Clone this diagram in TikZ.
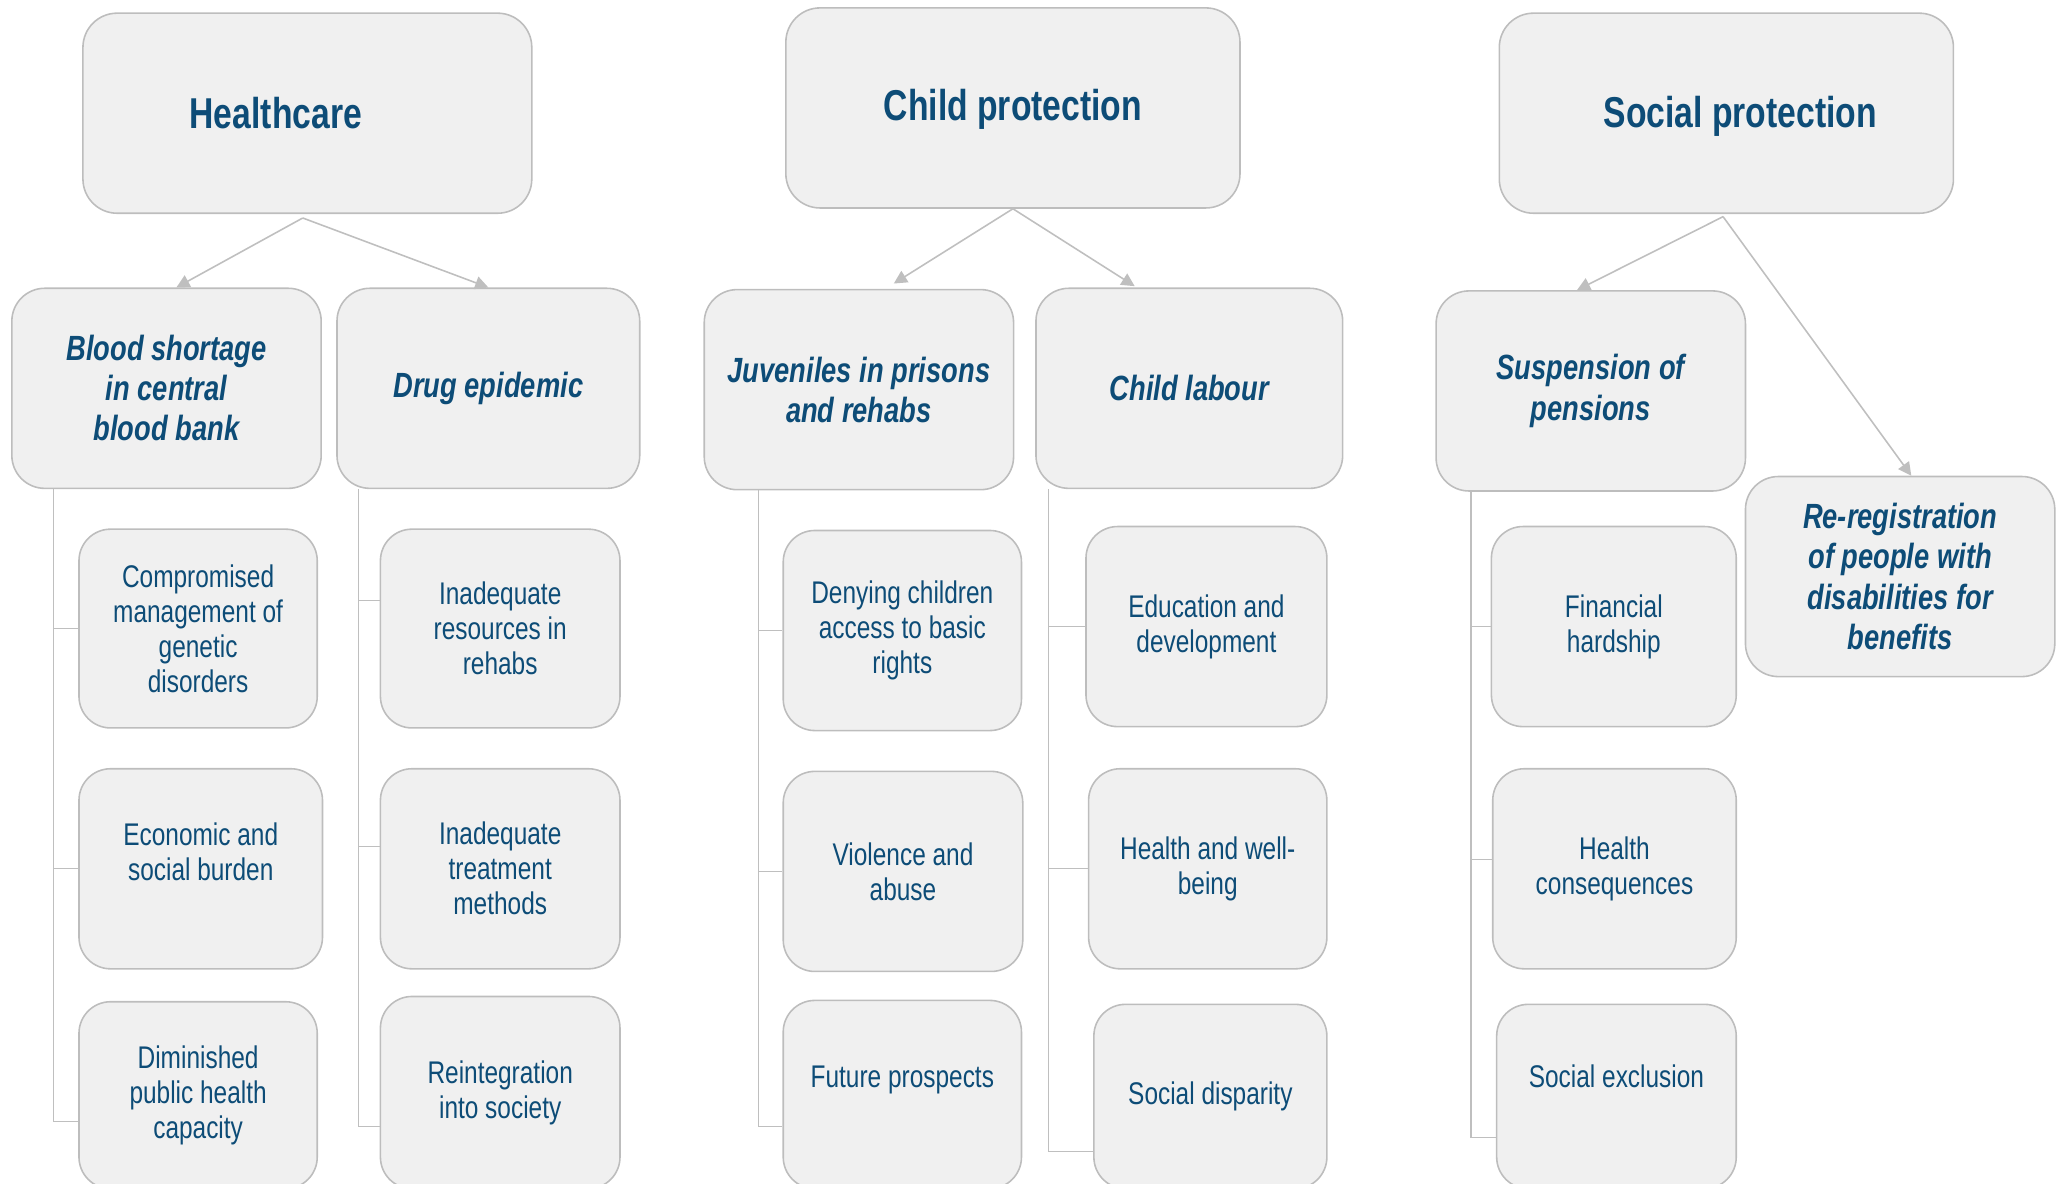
\documentclass[tikz,border=0pt]{standalone}
\usepackage{fontspec}
\setmainfont[FakeStretch=0.78]{Liberation Sans}
\usetikzlibrary{arrows.meta,positioning,calc}
\definecolor{navy}{HTML}{0D4C77}
\definecolor{boxgray}{HTML}{F0F0F0}
\definecolor{edgegray}{HTML}{BDBDBD}
\definecolor{linegray}{HTML}{BFBFBF}

\begin{document}
\begin{tikzpicture}[x=0.5pt,y=-0.5pt,
    cellbox/.style={draw=edgegray, fill=boxgray, line width=0.6pt, inner sep=0pt, text=navy, align=center},
    hdbox/.style={cellbox, rounded corners=13pt, minimum height=76pt, font=\bfseries\fontsize{16.4}{18}\selectfont},
    subbox/.style={cellbox, rounded corners=12.5pt, minimum height=76pt, font=\bfseries\itshape\fontsize{13.3}{15.25}\selectfont},
    leafbox/.style={cellbox, rounded corners=12pt, minimum height=76pt, font=\fontsize{11.9}{13.3}\selectfont},
    arrowline/.style={draw=linegray, line width=0.6pt, -{Triangle[length=5pt,width=5pt]}},
    treeline/.style={draw=linegray, line width=0.5pt}]
    \clip (0,0) rectangle (1568,899);

    % sectors
    \node[hdbox, minimum width=170.5pt] (hc) at (233.5,86) {\hspace*{-24pt}Healthcare};
    \node[hdbox, minimum width=172.5pt, text depth=2pt] (cp) at (769.5,82) {Child protection};
    \node[hdbox, minimum width=172.5pt, text depth=1pt] (sp) at (1311.5,86) {\hspace*{10.5pt}Social protection};

    % issues
    \node[subbox, minimum width=117.5pt] (blood) at (126.5,295) {Blood shortage\\in central\\blood bank};
    \node[subbox, minimum width=115pt] (drug) at (371,295) {Drug epidemic};
    \node[subbox, minimum width=117.5pt] (juv) at (652.5,296) {Juveniles in prisons\\and rehabs};
    \node[subbox, minimum width=116.5pt] (labour) at (903.5,295) {Child labour};
    \node[subbox, minimum width=117.5pt] (pens) at (1208.5,297) {Suspension of\\pensions};
    \node[subbox, minimum width=117.5pt] (rereg) at (1443.5,438) {Re-registration\\of people with\\disabilities for\\benefits};

    % consequences
    \node[leafbox, minimum width=90.5pt, minimum height=75.5pt] (comp) at (150.5,477.5) {Compromised\\management of\\genetic\\disorders};
    \node[leafbox, minimum width=92.5pt, text depth=13pt] (econ) at (152.5,660) {Economic and\\social burden};
    \node[leafbox, minimum width=90.5pt, minimum height=71pt] (dimin) at (150.5,832) {Diminished\\public health\\capacity};
    \node[leafbox, minimum width=91pt, minimum height=75.5pt] (res) at (380,477.5) {Inadequate\\resources in\\rehabs};
    \node[leafbox, minimum width=91pt] (treat) at (380,660) {Inadequate\\treatment\\methods};
    \node[leafbox, minimum width=91pt, minimum height=73pt] (reint) at (380,830) {Reintegration\\into society};
    \node[leafbox, minimum width=90.5pt] (deny) at (685.5,479) {Denying children\\access to basic\\rights};
    \node[leafbox, minimum width=91pt] (viol) at (686,662) {Violence and\\abuse};
    \node[leafbox, minimum width=90.5pt, minimum height=71.5pt, text height=9pt, text depth=14pt] (future) at (685.5,831.5) {Future prospects};
    \node[leafbox, minimum width=91.5pt] (edu) at (916.5,476) {Education and\\development};
    \node[leafbox, minimum width=90.5pt] (wellb) at (917.5,660) {Health and well-\\being};
    \node[leafbox, minimum width=88.5pt, minimum height=70pt] (disp) at (919.5,833) {Social disparity};
    \node[leafbox, minimum width=93pt] (fin) at (1226,476) {Financial\\hardship};
    \node[leafbox, minimum width=92.5pt] (hcons) at (1226.5,660) {Health\\consequences};
    \node[leafbox, minimum width=91pt, minimum height=70pt, text height=9pt, text depth=15.5pt] (excl) at (1228,833) {Social exclusion};

    % arrows
    \draw[arrowline] ($(hc.south)+(-3.5,3)$) -- ($(blood.north)+(7.5,0)$);
    \draw[arrowline] ($(hc.south)+(-3.5,3)$) -- (drug.north);
    \draw[arrowline] (cp.south) -- ($(juv.north)+(26.5,-4)$);
    \draw[arrowline] (cp.south) -- ($(labour.north)+(-41.5,-1)$);
    \draw[arrowline] ($(sp.south)+(-2.5,2)$) -- ($(pens.north)+(-10.5,0)$);
    \draw[arrowline] ($(sp.south)+(-2.5,2)$) -- ($(rereg.north)+(8.5,0)$);

    % trees
    \foreach \leaf/\dy in {comp/0,econ/0,dimin/-10}
        \draw[treeline] ($(blood.south west)+(32,0)$) |- ([yshift=\dy pt]\leaf.west);
    \foreach \leaf/\dy in {res/10.75,treat/8.5,reint/-13}
        \draw[treeline] ($(drug.south west)+(17,0)$) |- ([yshift=\dy pt]\leaf.west);
    \foreach \leaf/\dy in {deny/0,viol/0,future/-12.25}
        \draw[treeline] ($(juv.south west)+(42,0)$) |- ([yshift=\dy pt]\leaf.west);
    \foreach \leaf/\dy in {edu/0,wellb/0,disp/-21}
        \draw[treeline] ($(labour.south west)+(10,0)$) |- ([yshift=\dy pt]\leaf.west);
    \foreach \leaf/\dy in {fin/0,hcons/3.5,excl/-15.5}
        \draw[treeline] ($(pens.south west)+(27,0)$) |- ([yshift=\dy pt]\leaf.west);
\end{tikzpicture}
\end{document}
